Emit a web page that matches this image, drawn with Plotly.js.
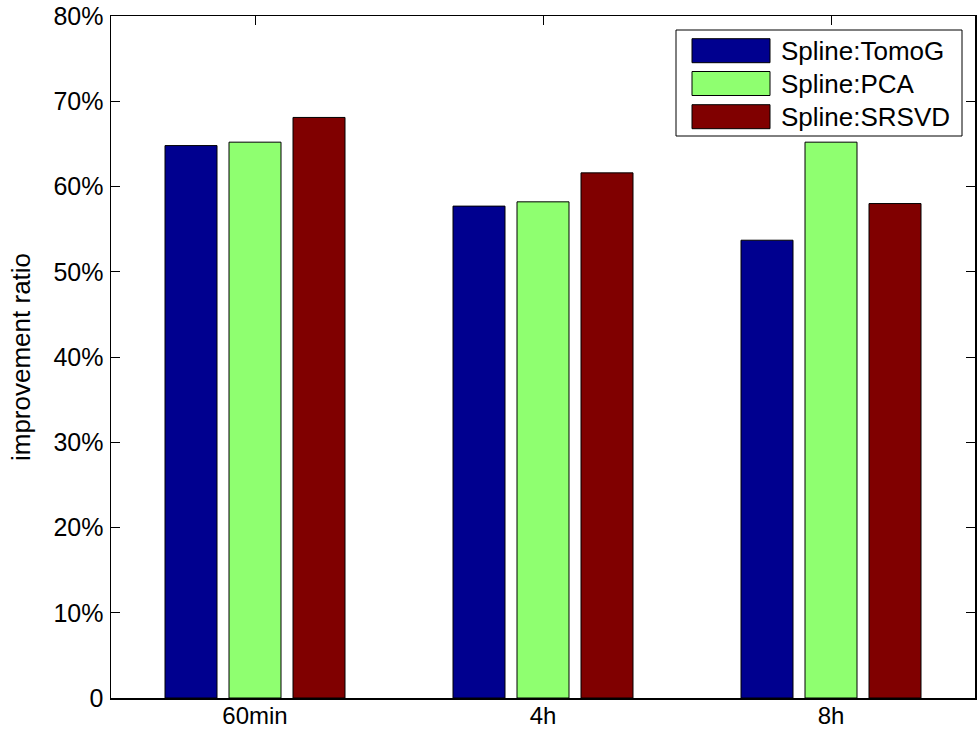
<!DOCTYPE html>
<html>
<head>
<meta charset="utf-8">
<script src="https://cdn.plot.ly/plotly-3.0.1.min.js"></script>
<style>
  html, body { margin: 0; padding: 0; background: #fff; }
  #chart { width: 978px; height: 736px; }
</style>
</head>
<body>
<div id="chart"></div>
<script>
// Improvement ratio per prediction horizon, in percent
const categories = ['60min', '4h', '8h'];
const seriesNames = ['Spline:TomoG', 'Spline:PCA', 'Spline:SRSVD'];
const tomoG = [64.8, 57.7, 53.7];
const pca = [65.2, 58.2, 65.2];
const srsvd = [68.1, 61.6, 58.0];
const yTickVals = [0, 10, 20, 30, 40, 50, 60, 70, 80];
const yTickText = ['0', '10%', '20%', '30%', '40%', '50%', '60%', '70%', '80%'];

const colors = ['#00008f', '#8fff70', '#800000'];
const seriesValues = [tomoG, pca, srsvd];

const W = 978, H = 736;
const margin = { l: 111, r: 3, t: 16, b: 38 };
const plotW = W - margin.l - margin.r;
const plotH = H - margin.t - margin.b;
// pixel position (page) -> paper fraction
const px = x => (x - margin.l) / plotW;
const py = y => (H - margin.b - y) / plotH;

const traces = seriesNames.map((name, i) => ({
  type: 'bar',
  name: name,
  x: categories,
  y: seriesValues[i],
  marker: { color: colors[i], line: { color: '#000', width: 1 } },
  showlegend: false,
  hoverinfo: 'x+y+name'
}));

// Boxed legend with wide swatches, MATLAB style
const shapes = [{
  type: 'rect', xref: 'paper', yref: 'paper',
  x0: px(676), x1: px(962), y0: py(136), y1: py(30),
  line: { color: '#000', width: 1 }, fillcolor: '#fff', layer: 'above'
}];
const annotations = [];
const rowCenters = [50.7, 83.5, 116.7];
seriesNames.forEach((name, i) => {
  const cy = rowCenters[i];
  shapes.push({
    type: 'rect', xref: 'paper', yref: 'paper',
    x0: px(692), x1: px(770), y0: py(cy + 12), y1: py(cy - 12),
    line: { color: '#000', width: 1 }, fillcolor: colors[i], layer: 'above'
  });
  annotations.push({
    xref: 'paper', yref: 'paper', x: px(779), y: py(cy),
    xanchor: 'left', yanchor: 'middle', showarrow: false,
    text: name, font: { size: 26, color: '#000', family: 'Arial, "Liberation Sans", sans-serif' }
  });
});

const layout = {
  width: W, height: H,
  margin: margin,
  paper_bgcolor: '#fff', plot_bgcolor: '#fff',
  font: { family: 'Arial, "Liberation Sans", sans-serif', color: '#000', size: 25 },
  barmode: 'group',
  bargap: 0.3333,
  bargroupgap: 0.1875,
  xaxis: {
    type: 'category', range: [-0.5, 2.5],
    showline: true, linecolor: '#000', linewidth: 1.5, mirror: 'allticks',
    ticks: 'inside', ticklen: 9, tickwidth: 1, tickcolor: '#000',
    showgrid: false, zeroline: false, layer: 'below traces',
    tickfont: { size: 24 }, ticklabelstandoff: -4
  },
  yaxis: {
    range: [0, 80],
    tickvals: yTickVals, ticktext: yTickText,
    showline: true, linecolor: '#000', linewidth: 1.5, mirror: 'allticks',
    ticks: 'inside', ticklen: 9, tickwidth: 1, tickcolor: '#000',
    showgrid: false, zeroline: false, layer: 'below traces',
    tickfont: { size: 25 }, ticklabelstandoff: 1,
    title: { text: 'improvement ratio', font: { size: 26 }, standoff: 15 }
  },
  shapes: shapes,
  annotations: annotations
};

Plotly.newPlot('chart', traces, layout, { displayModeBar: false, staticPlot: true });
</script>
</body>
</html>
